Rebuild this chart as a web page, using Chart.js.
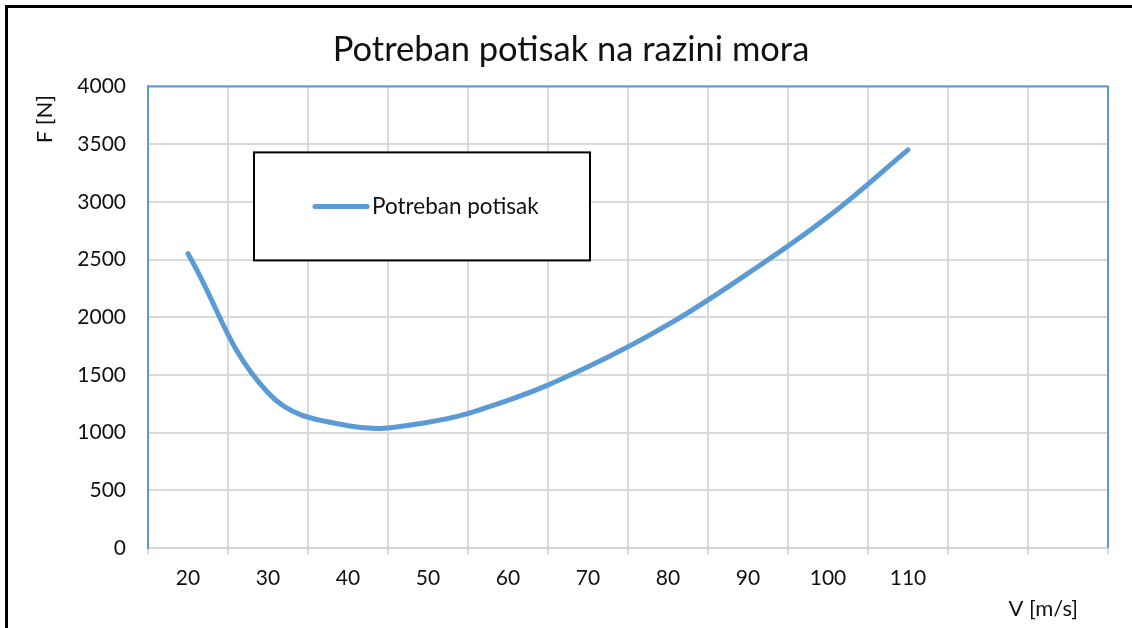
<!DOCTYPE html>
<html>
<head>
<meta charset="utf-8">
<title>Potreban potisak na razini mora</title>
<script src="https://cdn.jsdelivr.net/npm/chart.js@4.4.1/dist/chart.umd.min.js"></script>
<style>
  html, body { margin: 0; padding: 0; background: #fff; }
  #wrap { position: relative; width: 1132px; height: 628px; overflow: hidden; }
  #frame { position: absolute; left: 5px; top: 5px; width: 1140px; height: 640px;
           border-left: 3px solid #000; border-top: 3px solid #000; pointer-events: none; }
</style>
</head>
<body>
<div id="wrap">
  <canvas id="chart"></canvas>
  <div id="frame"></div>
</div>
<script>
// x categories (m/s) - the original axis has two empty slots at the end
const speeds = ['20', '30', '40', '50', '60', '70', '80', '90', '100', '110', '', ''];
// required thrust at sea level (N)
const thrust = [2550, 1345, 1060, 1090, 1280, 1570, 1935, 2380, 2870, 3450];
// y axis ticks
const yTicks = [0, 500, 1000, 1500, 2000, 2500, 3000, 3500, 4000];

const seriesName = 'Potreban potisak';
const chartTitle = 'Potreban potisak na razini mora';
const xTitle = 'V [m/s]';
const yTitle = 'F [N]';

const blue = '#5B9BD5';
const gridGrey = '#d9d9d9';
const fontFamily = 'Lato, "Open Sans", sans-serif';

// draws what chart.js has no option for: top/right plot frame,
// boxed legend inside the plot and the axis titles where excel put them
const extras = {
  id: 'extras',
  afterDraw(chart) {
    const ctx = chart.ctx;
    const a = chart.chartArea;
    ctx.save();

    ctx.strokeStyle = blue;
    ctx.lineWidth = 2;
    ctx.beginPath();
    ctx.moveTo(a.left, a.top);
    ctx.lineTo(a.right, a.top);
    ctx.lineTo(a.right, a.bottom);
    ctx.stroke();

    // legend box
    const lx = a.left + 106, ly = a.top + 66, lw = 336, lh = 108;
    ctx.fillStyle = '#fff';
    ctx.fillRect(lx, ly, lw, lh);
    ctx.strokeStyle = '#000';
    ctx.lineWidth = 2;
    ctx.strokeRect(lx, ly, lw, lh);
    const ds = chart.data.datasets[0];
    ctx.strokeStyle = ds.borderColor;
    ctx.lineWidth = ds.borderWidth;
    ctx.lineCap = 'round';
    ctx.beginPath();
    ctx.moveTo(lx + 61, ly + 54);
    ctx.lineTo(lx + 113, ly + 54);
    ctx.stroke();
    ctx.fillStyle = '#111';
    ctx.font = '22.5px ' + fontFamily;
    ctx.textAlign = 'left';
    ctx.textBaseline = 'middle';
    ctx.fillText(ds.label, lx + 118, ly + 54);

    // axis titles
    ctx.font = '22px ' + fontFamily;
    ctx.textAlign = 'right';
    ctx.fillText(xTitle, 1078, 609);
    ctx.translate(45, 95);
    ctx.rotate(-Math.PI / 2);
    ctx.textAlign = 'right';
    ctx.fillText(yTitle, 0, 0);

    ctx.restore();
  }
};

new Chart(document.getElementById('chart'), {
  type: 'line',
  data: {
    labels: speeds,
    datasets: [{
      label: seriesName,
      data: thrust,
      borderColor: blue,
      backgroundColor: blue,
      borderWidth: 5,
      borderCapStyle: 'round',
      pointRadius: 0,
      tension: 0.4,
      fill: false
    }]
  },
  options: {
    responsive: true,
    maintainAspectRatio: false,
    animation: false,
    layout: { padding: { left: 34, right: 24, top: 0, bottom: 0 } },
    plugins: {
      legend: { display: false },
      tooltip: { enabled: false },
      title: {
        display: true,
        text: chartTitle,
        color: '#111',
        font: { family: fontFamily, size: 34.5, weight: 'normal', lineHeight: 1.2 },
        padding: { top: 29, bottom: 16 }
      }
    },
    scales: {
      x: {
        type: 'category',
        offset: true,
        grid: { offset: true, color: gridGrey, lineWidth: 2, drawTicks: true, tickLength: 6 },
        border: { color: '#d0d7e0', width: 2 },
        ticks: { color: '#111', padding: 12, maxRotation: 0, autoSkip: false,
                 font: { family: fontFamily, size: 21 } },
        afterFit(scale) { scale.height = 80; }
      },
      y: {
        min: 0,
        max: 4000,
        afterBuildTicks(scale) { scale.ticks = yTicks.map(v => ({ value: v })); },
        grid: { color: gridGrey, lineWidth: 2, drawTicks: false },
        border: { color: blue, width: 2 },
        ticks: { color: '#111', padding: 22, font: { family: fontFamily, size: 21 },
                 callback: v => String(v) },
        afterFit(scale) { scale.width = 114; }
      }
    }
  },
  plugins: [extras]
});
</script>
</body>
</html>
